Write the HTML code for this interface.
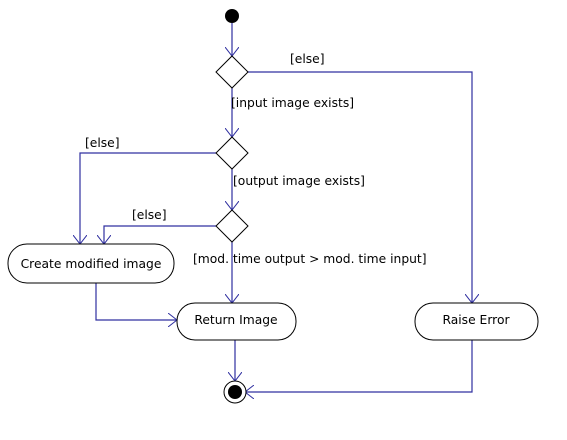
<!DOCTYPE html>
<html><head><style>body{margin:0;background:#fff}svg text{font-family:"DejaVu Sans","Liberation Sans",sans-serif;font-size:12.3px;fill:#000}</style></head>
<body><svg width="567" height="435" xmlns="http://www.w3.org/2000/svg">
<defs><marker id="a" markerWidth="10" markerHeight="14" refX="9" refY="7" orient="auto" markerUnits="userSpaceOnUse"><path d="M0,0 L9,7 L0,14" fill="none" stroke="#3030a0" stroke-width="1"/></marker></defs>
<g stroke="#3030a0" stroke-width="1.2" fill="none">
<path d="M232,23 V56" marker-end="url(#a)"/>
<path d="M232,88 V137" marker-end="url(#a)"/>
<path d="M232,169 V210" marker-end="url(#a)"/>
<path d="M232,242 V303" marker-end="url(#a)"/>
<path d="M248,72 H472 V303" marker-end="url(#a)"/>
<path d="M216,153 H80 V244" marker-end="url(#a)"/>
<path d="M216,226 H104 V244" marker-end="url(#a)"/>
<path d="M96,283 V320 H177" marker-end="url(#a)"/>
<path d="M235,340 V381" marker-end="url(#a)"/>
<path d="M472,340 V392 H245" marker-end="url(#a)"/>
</g>
<circle cx="232" cy="16" r="7" fill="#000"/>
<g stroke="#000" fill="#fff">
<path d="M232,56 L248,72 L232,88 L216,72Z"/>
<path d="M232,137 L248,153 L232,169 L216,153Z"/>
<path d="M232,210 L248,226 L232,242 L216,226Z"/>
<rect x="8" y="244" width="166" height="39" rx="19"/>
<rect x="177" y="303" width="119" height="37" rx="18"/>
<rect x="415" y="303" width="123" height="37" rx="18"/>
<circle cx="235" cy="392" r="11"/>
</g>
<circle cx="235" cy="392" r="7" fill="#000"/>
<text x="290" y="63">[else]</text>
<text x="231" y="107">[input image exists]</text>
<text x="85" y="147">[else]</text>
<text x="233" y="185">[output image exists]</text>
<text x="132" y="219">[else]</text>
<text x="193" y="263">[mod. time output &gt; mod. time input]</text>
<text x="91" y="268" text-anchor="middle">Create modified image</text>
<text x="236" y="324" text-anchor="middle">Return Image</text>
<text x="476" y="324" text-anchor="middle">Raise Error</text>
</svg></body></html>
